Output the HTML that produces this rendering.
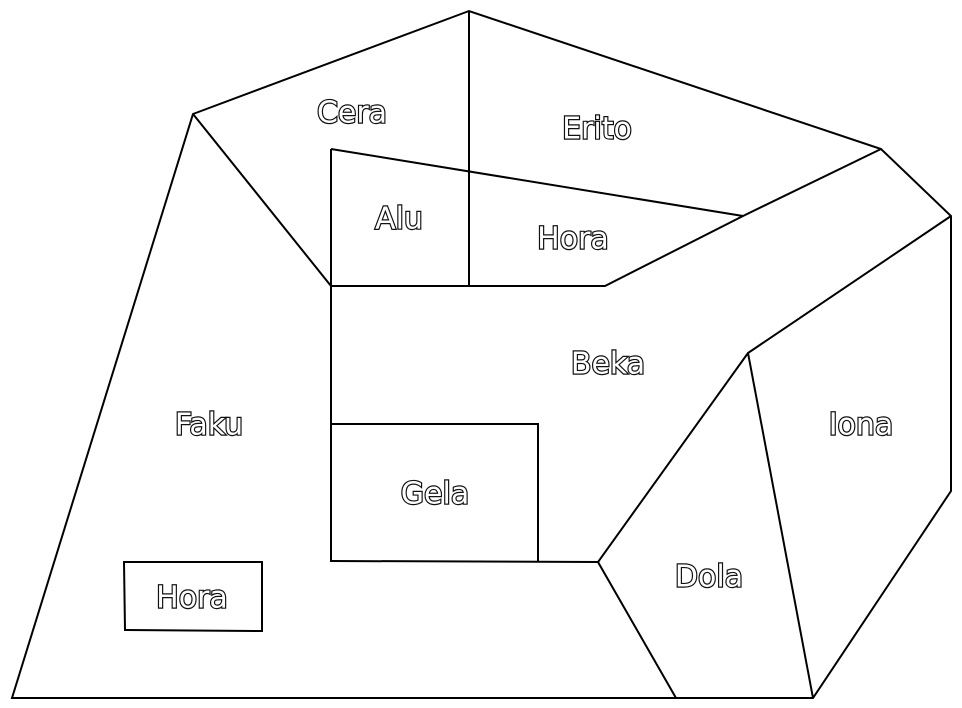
<!DOCTYPE html>
<html><head><meta charset="utf-8"><style>
html,body{margin:0;padding:0;background:#fff;}
svg{display:block;}
text{font-family:"DejaVu Sans","Liberation Sans",sans-serif;font-size:30px;fill:#fff;stroke:#111;stroke-width:2.4px;text-anchor:middle;dominant-baseline:central;paint-order:stroke;}
line,polyline,polygon{stroke:#000;stroke-width:2;fill:none;}
</style></head><body>
<svg width="962" height="708" viewBox="0 0 962 708">
<g>
<polygon points="193,114 469,11 881,149 951,216 951,491 813,698 12,698"/>
<line x1="193" y1="114" x2="331" y2="286"/>
<line x1="469" y1="11" x2="469" y2="286"/>
<line x1="331" y1="149" x2="331" y2="562"/>
<line x1="331" y1="149" x2="743" y2="216"/>
<polyline points="331,286 605,286 743,216 881,149"/>
<polyline points="951,216 748,353 598,562 676,698"/>
<line x1="748" y1="353" x2="813" y2="698"/>
<polyline points="331,424 538,424 538,562"/>
<line x1="331" y1="561" x2="598" y2="562"/>
<polygon points="124,562 262,562 262,631 125,630"/>
</g>
<g>
<text x="352" y="113">Cera</text>
<text x="597" y="129">Erito</text>
<text x="399" y="219">Alu</text>
<text x="573" y="239">Hora</text>
<text x="608" y="364">Beka</text>
<text x="209" y="425">Faku</text>
<text x="861" y="425">Iona</text>
<text x="435" y="494">Gela</text>
<text x="709" y="577">Dola</text>
<text x="192" y="598">Hora</text>
</g>
</svg>
</body></html>
